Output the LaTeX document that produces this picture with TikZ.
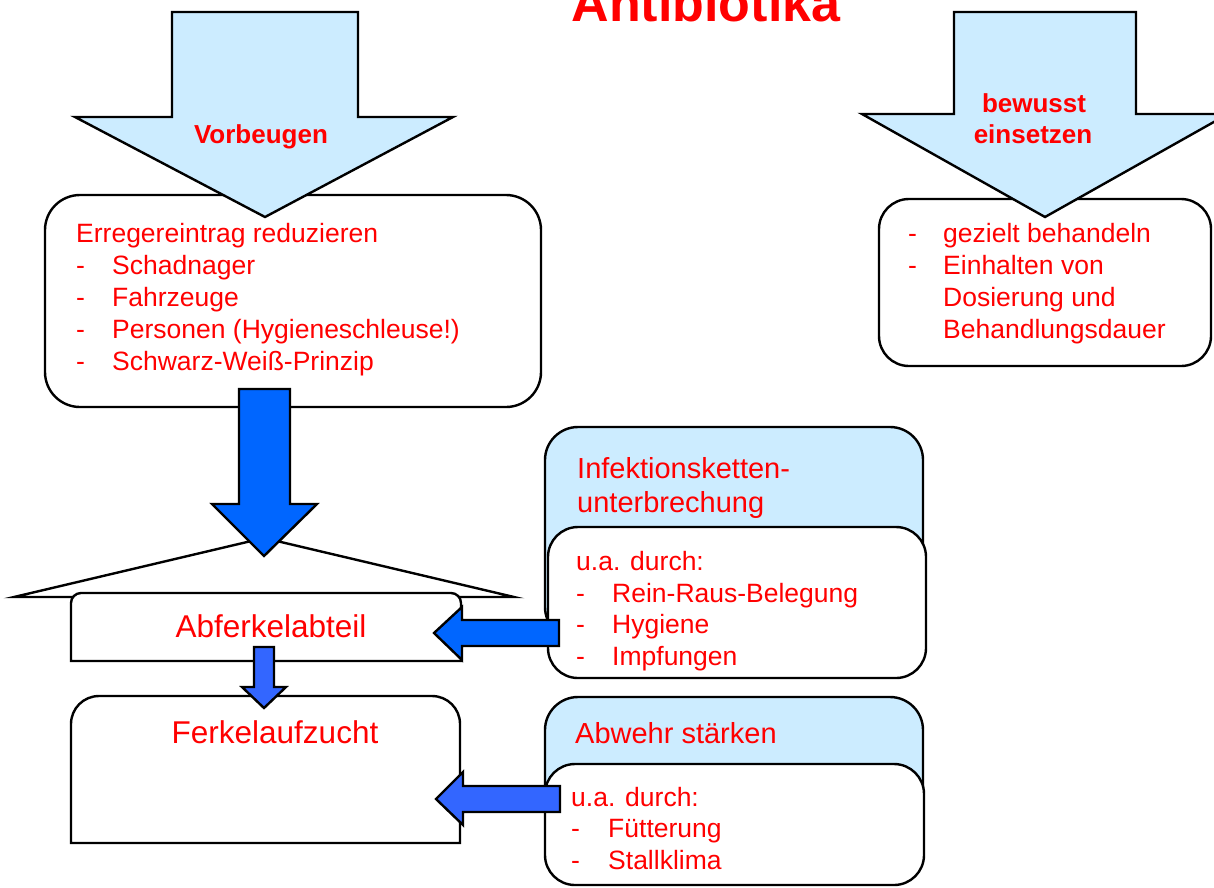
\documentclass[tikz,border=0pt]{standalone}
\usepackage{fontspec}
\setmainfont{Liberation Sans}
\definecolor{lightblue}{HTML}{CCECFF}
\definecolor{arrowblue}{HTML}{0066FF}
\definecolor{arrowblueb}{HTML}{3366FF}
\definecolor{txtred}{HTML}{FF0000}
\begin{document}
\begin{tikzpicture}[x=1pt,y=-1pt,
  outline/.style={draw=black,line width=2.4pt,line join=miter},
  roundbox/.style={outline,fill=white},
  bigarrow/.style={outline,fill=lightblue},
  bluearrow/.style={outline,fill=arrowblue},
  bluearrowb/.style={outline,fill=arrowblueb},
  body/.style={inner sep=0pt,text=txtred,anchor=base west,font=\fontsize{26.5pt}{32pt}\selectfont},
  head/.style={inner sep=0pt,text=txtred,anchor=base west,font=\fontsize{29pt}{34pt}\selectfont},
  big/.style={inner sep=0pt,text=txtred,anchor=base,font=\fontsize{31.5pt}{36pt}\selectfont},
  boldlbl/.style={inner sep=0pt,text=txtred,anchor=base,font=\bfseries\fontsize{26pt}{31pt}\selectfont}]
\clip (0,0) rectangle (1214,887);
\fill[white] (0,0) rectangle (1214,887);

% title (cut at top)
\node[inner sep=0pt,text=txtred,anchor=base,font=\bfseries\fontsize{52pt}{60pt}\selectfont] (title) at (706,21) {Antibiotika};

% Erregereintrag box and Vorbeugen arrow
\draw[roundbox,rounded corners=35pt] (45,195) rectangle (541,407);
\draw[bigarrow] (172,12) -- (358,12) -- (358,117) -- (453,117) -- (265,217) -- (75,117) -- (172,117) -- cycle;
\node[boldlbl] (vorb) at (261,143) {Vorbeugen};
\node[body] (err0) at (76,242) {Erregereintrag reduzieren};
\node[body] (errd1) at (76,274) {-};
\node[body] (err1) at (112,274) {Schadnager};
\node[body] (errd2) at (76,306) {-};
\node[body] (err2) at (112,306) {Fahrzeuge};
\node[body] (errd3) at (76,338) {-};
\node[body] (err3) at (112,338) {Personen (Hygieneschleuse!)};
\node[body] (errd4) at (76,370) {-};
\node[body] (err4) at (112,370) {Schwarz-Weiß-Prinzip};

% right box and bewusst einsetzen arrow
\draw[roundbox,rounded corners=30pt] (879,199) rectangle (1211,366);
\draw[bigarrow] (954,12) -- (1136,12) -- (1136,114) -- (1228,114) -- (1045,217) -- (862,114) -- (954,114) -- cycle;
\node[boldlbl] (bew1) at (1034,112) {bewusst};
\node[boldlbl] (bew2) at (1033,143) {einsetzen};
\node[body] (rd1) at (908,242) {-};
\node[body] (r1) at (943,242) {gezielt behandeln};
\node[body] (rd2) at (908,274) {-};
\node[body] (r2) at (943,274) {Einhalten von};
\node[body] (r3) at (943,306) {Dosierung und};
\node[body] (r4) at (943,338) {Behandlungsdauer};

% roof triangle and big blue arrow
\draw[roundbox] (264,538) -- (514,597) -- (14,597) -- cycle;
\draw[bluearrow] (239,389) -- (290,389) -- (290,504) -- (317,504) -- (264,556) -- (212,504) -- (239,504) -- cycle;

% Abferkelabteil
\draw[roundbox] (71,661) -- (71,603) .. controls (71,597.5) and (75.5,593) .. (81,593) -- (451,593) .. controls (456.5,593) and (461,597.5) .. (461,603) -- (461,661) -- cycle;
\node[big] (abf) at (271,637) {Abferkelabteil};

% Ferkelaufzucht
\draw[roundbox] (71,843) -- (71,724) .. controls (71,708.5) and (83.5,696) .. (99,696) -- (432,696) .. controls (447.5,696) and (460,708.5) .. (460,724) -- (460,843) -- cycle;
\node[big] (ferk) at (275,743) {Ferkelaufzucht};

% small arrow
\draw[bluearrowb] (254,647) -- (274,647) -- (274,687) -- (286,687) -- (264,708) -- (242,687) -- (254,687) -- cycle;

% Infektionskettenunterbrechung
\draw[outline,fill=lightblue,rounded corners=33pt] (545,427) rectangle (923,640);
\node[head] (inf1) at (577,478) {Infektionsketten-};
\node[head] (inf2) at (577,512) {unterbrechung};
\draw[roundbox,rounded corners=30pt] (548,527) rectangle (926,678);
\node[body] (ua1) at (576,570) {u.a. durch:};
\node[body] (ud1) at (576,602) {-};
\node[body] (u1) at (612,602) {Rein-Raus-Belegung};
\node[body] (ud2) at (576,633) {-};
\node[body] (u2) at (612,633) {Hygiene};
\node[body] (ud3) at (576,665) {-};
\node[body] (u3) at (612,665) {Impfungen};

% Abwehr staerken
\draw[outline,fill=lightblue,rounded corners=33pt] (545,697) rectangle (923,840);
\node[head] (abw) at (575,743) {Abwehr stärken};
\draw[roundbox,rounded corners=30pt] (545,764) rectangle (924,885);
\node[body] (ua2) at (571,806) {u.a. durch:};
\node[body] (vd1) at (571,837) {-};
\node[body] (v1) at (608,837) {Fütterung};
\node[body] (vd2) at (571,869) {-};
\node[body] (v2) at (608,869) {Stallklima};

% left arrows
\draw[bluearrow] (559,620) -- (559,646) -- (462,646) -- (462,660) -- (434,633) -- (462,607) -- (462,620) -- cycle;
\draw[bluearrowb] (560,786) -- (560,812) -- (463,812) -- (463,825) -- (436,799) -- (463,772) -- (463,786) -- cycle;
\end{tikzpicture}
\end{document}
